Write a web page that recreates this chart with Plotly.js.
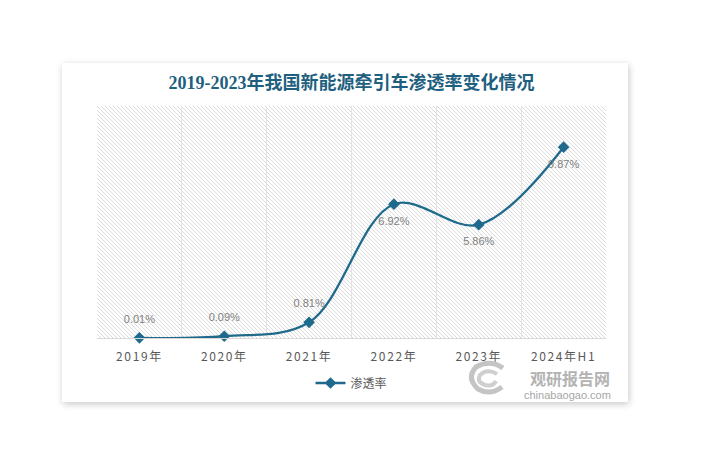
<!DOCTYPE html>
<html>
<head>
<meta charset="utf-8">
<script src="https://cdn.plot.ly/plotly-3.0.1.min.js"></script>
<style>
  html, body { margin: 0; padding: 0; background: #ffffff; width: 701px; height: 468px; overflow: hidden; }
  #card { position: absolute; left: 62px; top: 63px; width: 566px; height: 339px; background: #fff;
          box-shadow: 1px 2px 7px rgba(0,0,0,0.22); }
  #chart { width: 566px; height: 339px; }
  .xtick text { letter-spacing: 1.6px; }
</style>
</head>
<body>
<div id="card"><div id="chart"></div></div>
<script>
// ---- data ----
var categories = ["2019年", "2020年", "2021年", "2022年", "2023年", "2024年H1"];
var penetration = [0.01, 0.09, 0.81, 6.92, 5.86, 9.87];
var labelText = ["0.01%", "0.09%", "0.81%", "6.92%", "5.86%", "9.87%"];
var labelPos = ["top center", "top center", "top center", "bottom center", "bottom center", "bottom center"];
var seriesName = "渗透率";
var chartTitle = "2019-2023年我国新能源牵引车渗透率变化情况";

// ---- hatch background for plot area ----
var W = 509, H = 232;
var svg = '<svg xmlns="http://www.w3.org/2000/svg" width="' + W + '" height="' + H + '">' +
  '<defs><pattern id="p" width="4" height="4" patternUnits="userSpaceOnUse">' +
  '<path d="M-1,-1 L5,5 M-1,3 L1,5 M3,-1 L5,1" stroke="#d5d5d5" stroke-width="0.85"/>' +
  '</pattern></defs><rect width="' + W + '" height="' + H + '" fill="url(#p)"/></svg>';
var bgSrc = 'data:image/svg+xml;charset=utf-8,' + encodeURIComponent(svg);

// pixel (page) -> paper helper for decorative watermark
function px(X) { return (X - 97) / 509; }
function py(Y) { return (338 - Y) / 232; }

var lineTrace = {
  x: categories,
  y: penetration,
  name: seriesName,
  type: 'scatter',
  mode: 'lines+markers',
  line: { color: '#1f6a8c', width: 2.3, shape: 'spline', smoothing: 1 },
  marker: { symbol: 'diamond', size: 9, color: '#1f6a8c' },
  cliponaxis: false,
  hoverinfo: 'x+y'
};
var labelTrace = {
  x: categories,
  y: penetration,
  type: 'scatter',
  mode: 'markers+text',
  marker: { size: 18, opacity: 0, color: '#1f6a8c' },
  text: labelText,
  textposition: labelPos,
  textfont: { family: 'Liberation Sans, Arial, sans-serif', size: 11, color: '#808080' },
  cliponaxis: false,
  showlegend: false,
  hoverinfo: 'skip'
};

// logo path (decorative swirl)
function P(x, y) { return px(x).toFixed(4) + ',' + py(y).toFixed(4); }
var logoOuter = 'M' + P(503, 368) + ' Q' + P(490, 359) + ' ' + P(476, 367) +
  ' Q' + P(466, 378) + ' ' + P(478, 389) + ' Q' + P(490, 396) + ' ' + P(502, 387);
var logoInner = 'M' + P(497, 374) + ' Q' + P(487, 368) + ' ' + P(480, 375) +
  ' Q' + P(476, 382) + ' ' + P(485, 385) + ' Q' + P(493, 387) + ' ' + P(496, 381);

var layout = {
  width: 566, height: 339,
  margin: { l: 35, r: 22, t: 43, b: 64 },
  paper_bgcolor: '#ffffff',
  plot_bgcolor: 'rgba(0,0,0,0)',
  title: {
    text: '<b>' + chartTitle + '</b>',
    x: 0.5, xref: 'paper', xanchor: 'center',
    y: 1 - 20 / 339, yref: 'container', yanchor: 'middle',
    font: { family: 'Liberation Serif, Noto Sans CJK SC, serif', size: 18, color: '#1f5f80' }
  },
  xaxis: {
    type: 'category',
    range: [-0.5, 5.5],
    tickson: 'boundaries',
    showgrid: true, gridcolor: '#e3e3e3', gridwidth: 1,
    showline: true, linecolor: '#d9d9d9', linewidth: 1,
    ticks: '', zeroline: false,
    ticklabelstandoff: 8,
    automargin: false,
    tickfont: { family: 'Noto Sans CJK SC, sans-serif', size: 12, color: '#595959' },
    fixedrange: true
  },
  yaxis: {
    range: [0, 12],
    visible: false, showgrid: false, zeroline: false,
    automargin: false,
    fixedrange: true
  },
  showlegend: true,
  legend: {
    orientation: 'h', x: 0.5, xanchor: 'center', xref: 'paper',
    y: 1 - (383 - 63) / 339, yref: 'container', yanchor: 'middle',
    font: { family: 'Noto Sans CJK SC, sans-serif', size: 12, color: '#595959' },
    bgcolor: 'rgba(0,0,0,0)'
  },
  images: [{
    source: bgSrc, xref: 'paper', yref: 'paper',
    x: 0, y: 1, sizex: 1, sizey: 1, xanchor: 'left', yanchor: 'top',
    sizing: 'stretch', layer: 'below'
  }],
  shapes: [
    { type: 'path', xref: 'paper', yref: 'paper', path: logoOuter,
      line: { color: '#c4c4c4', width: 5 } },
    { type: 'path', xref: 'paper', yref: 'paper', path: logoInner,
      line: { color: '#cfcfcf', width: 4 } }
  ],
  annotations: [
    { xref: 'paper', yref: 'paper', x: px(570), y: py(365), xanchor: 'center', yanchor: 'top',
      text: '<b>观研报告网</b>', showarrow: false, borderpad: 0,
      font: { family: 'Noto Sans CJK SC, sans-serif', size: 16, color: '#b3b3b3' } },
    { xref: 'paper', yref: 'paper', x: px(567), y: py(388), xanchor: 'center', yanchor: 'top',
      text: 'chinabaogao.com', showarrow: false, borderpad: 0,
      font: { family: 'Liberation Sans, Arial, sans-serif', size: 11, color: '#a6a6a6' } }
  ]
};

Plotly.newPlot('chart', [lineTrace, labelTrace], layout, { displayModeBar: false, staticPlot: true });
</script>
</body>
</html>
